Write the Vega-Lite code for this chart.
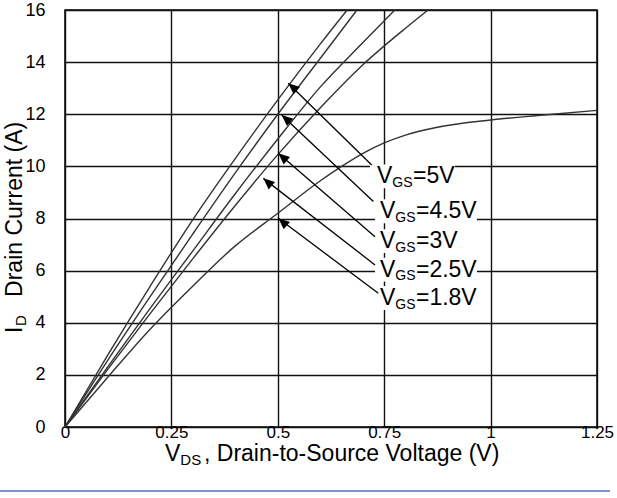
{
  "$schema": "https://vega.github.io/schema/vega-lite/v6.json",
  "width": 532,
  "height": 417,
  "autosize": "none",
  "padding": {"left": 65, "top": 10, "right": 20, "bottom": 71},
  "background": "white",
  "config": {
    "font": "Liberation Sans",
    "view": {"stroke": "#000", "strokeWidth": 1.5},
    "axis": {"labelFontSize": 18, "labelFont": "Liberation Sans", "labelColor": "#000", "labelFlush": false, "labelOverlap": false,
             "grid": true, "gridColor": "#111", "gridWidth": 1.4, "gridOpacity": 1, "domain": false, "ticks": false}
  },
  "datasets": {
    "curves": [
      {"vgs": "5V", "v": 0, "i": 0}, {"vgs": "5V", "v": 0.1, "i": 2.75}, {"vgs": "5V", "v": 0.2, "i": 5.4}, {"vgs": "5V", "v": 0.3, "i": 7.95}, {"vgs": "5V", "v": 0.4, "i": 10.3}, {"vgs": "5V", "v": 0.5, "i": 12.55}, {"vgs": "5V", "v": 0.6, "i": 14.7}, {"vgs": "5V", "v": 0.663, "i": 16},
      {"vgs": "4.5V", "v": 0, "i": 0}, {"vgs": "4.5V", "v": 0.1, "i": 2.55}, {"vgs": "4.5V", "v": 0.2, "i": 5.0}, {"vgs": "4.5V", "v": 0.3, "i": 7.4}, {"vgs": "4.5V", "v": 0.4, "i": 9.75}, {"vgs": "4.5V", "v": 0.5, "i": 12.0}, {"vgs": "4.5V", "v": 0.6, "i": 14.15}, {"vgs": "4.5V", "v": 0.686, "i": 16},
      {"vgs": "3V", "v": 0, "i": 0}, {"vgs": "3V", "v": 0.1, "i": 2.3}, {"vgs": "3V", "v": 0.2, "i": 4.55}, {"vgs": "3V", "v": 0.3, "i": 6.75}, {"vgs": "3V", "v": 0.4, "i": 8.95}, {"vgs": "3V", "v": 0.5, "i": 11.05}, {"vgs": "3V", "v": 0.6, "i": 13.05}, {"vgs": "3V", "v": 0.7, "i": 14.75}, {"vgs": "3V", "v": 0.775, "i": 16},
      {"vgs": "2.5V", "v": 0, "i": 0}, {"vgs": "2.5V", "v": 0.1, "i": 2.2}, {"vgs": "2.5V", "v": 0.2, "i": 4.35}, {"vgs": "2.5V", "v": 0.3, "i": 6.45}, {"vgs": "2.5V", "v": 0.4, "i": 8.5}, {"vgs": "2.5V", "v": 0.5, "i": 10.45}, {"vgs": "2.5V", "v": 0.6, "i": 12.25}, {"vgs": "2.5V", "v": 0.7, "i": 13.9}, {"vgs": "2.5V", "v": 0.8, "i": 15.3}, {"vgs": "2.5V", "v": 0.853, "i": 16},
      {"vgs": "1.8V", "v": 0, "i": 0}, {"vgs": "1.8V", "v": 0.1, "i": 1.9}, {"vgs": "1.8V", "v": 0.2, "i": 3.75}, {"vgs": "1.8V", "v": 0.3, "i": 5.4}, {"vgs": "1.8V", "v": 0.4, "i": 6.95}, {"vgs": "1.8V", "v": 0.5, "i": 8.2}, {"vgs": "1.8V", "v": 0.6, "i": 9.45}, {"vgs": "1.8V", "v": 0.65, "i": 10.0}, {"vgs": "1.8V", "v": 0.7, "i": 10.5}, {"vgs": "1.8V", "v": 0.75, "i": 10.9}, {"vgs": "1.8V", "v": 0.8, "i": 11.2}, {"vgs": "1.8V", "v": 0.875, "i": 11.5}, {"vgs": "1.8V", "v": 1.0, "i": 11.78}, {"vgs": "1.8V", "v": 1.125, "i": 11.97}, {"vgs": "1.8V", "v": 1.25, "i": 12.15}
    ],
    "labels": [
      {"vgs": "5V", "rest": "=5V", "size": "short", "lv": 0.733, "li": 9.35, "tv": 0.7206, "ti": 10.05, "pv": 0.5245, "pi": 13.19},
      {"vgs": "4.5V", "rest": "=4.5V", "size": "long", "lv": 0.74, "li": 8.01, "tv": 0.7245, "ti": 8.65, "pv": 0.509, "pi": 11.97},
      {"vgs": "3V", "rest": "=3V", "size": "short", "lv": 0.74, "li": 6.86, "tv": 0.7284, "ti": 7.3, "pv": 0.5012, "pi": 10.5},
      {"vgs": "2.5V", "rest": "=2.5V", "size": "long", "lv": 0.74, "li": 5.77, "tv": 0.7284, "ti": 6.22, "pv": 0.466, "pi": 9.54},
      {"vgs": "1.8V", "rest": "=1.8V", "size": "long", "lv": 0.74, "li": 4.68, "tv": 0.7362, "ti": 5.13, "pv": 0.5012, "pi": 8.01}
    ],
    "xtitle": [{"v": 0.235, "i": -1.32}],
    "ytitle": [{"v": -0.101, "i": 3.61}],
    "frame": [{"v": -0.1527, "v2": 1.2805, "i": -2.456}]
  },
  "layer": [
    {
      "data": {"name": "curves"},
      "mark": {"type": "line", "interpolate": "monotone", "color": "#333", "strokeWidth": 1.4},
      "encoding": {
        "x": {"field": "v", "type": "quantitative", "scale": {"domain": [0, 1.25], "nice": false, "zero": false},
              "axis": {"title": null, "values": [0, 0.25, 0.5, 0.75, 1, 1.25], "format": ".3~g", "labelPadding": -3, "labelBaseline": "top", "labelFontSize": 17}},
        "y": {"field": "i", "type": "quantitative", "scale": {"domain": [0, 16], "nice": false, "zero": false},
              "axis": {"title": null, "values": [0, 2, 4, 6, 8, 10, 12, 14, 16], "labelPadding": 20, "labelFontSize": 18}},
        "detail": {"field": "vgs"}
      }
    },
    {
      "data": {"name": "labels"},
      "transform": [{"filter": "datum.size == 'short'"}],
      "mark": {"type": "point", "shape": "M-1,-0.28H1V0.28H-1Z", "size": 7225, "filled": true, "color": "white", "opacity": 1, "strokeWidth": 0, "xOffset": 35.5, "yOffset": -7},
      "encoding": {
        "x": {"field": "lv", "type": "quantitative"},
        "y": {"field": "li", "type": "quantitative"}
      }
    },
    {
      "data": {"name": "labels"},
      "transform": [{"filter": "datum.size == 'long'"}],
      "mark": {"type": "point", "shape": "M-1,-0.235H1V0.235H-1Z", "size": 10404, "filled": true, "color": "white", "opacity": 1, "strokeWidth": 0, "xOffset": 46, "yOffset": -7},
      "encoding": {
        "x": {"field": "lv", "type": "quantitative"},
        "y": {"field": "li", "type": "quantitative"}
      }
    },
    {
      "data": {"name": "labels"},
      "mark": {"type": "rule", "color": "#000", "strokeWidth": 1.3},
      "encoding": {
        "x": {"field": "tv", "type": "quantitative"},
        "y": {"field": "ti", "type": "quantitative"},
        "x2": {"field": "pv"},
        "y2": {"field": "pi"}
      }
    },
    {
      "data": {"name": "labels"},
      "mark": {"type": "point", "shape": "M0,0L-0.6,1.4L0.6,1.4Z", "size": 260, "filled": true, "color": "#000", "opacity": 1, "strokeWidth": 0, "angle": -49},
      "encoding": {
        "x": {"field": "pv", "type": "quantitative"},
        "y": {"field": "pi", "type": "quantitative"}
      }
    },
    {
      "data": {"name": "labels"},
      "mark": {"type": "text", "text": "V", "font": "Liberation Sans", "fontSize": 23, "align": "left", "baseline": "alphabetic", "color": "#000"},
      "encoding": {
        "x": {"field": "lv", "type": "quantitative"},
        "y": {"field": "li", "type": "quantitative"}
      }
    },
    {
      "data": {"name": "labels"},
      "mark": {"type": "text", "text": "GS", "font": "Liberation Sans", "fontSize": 14, "align": "left", "baseline": "alphabetic", "dx": 15.3, "dy": 3.5, "color": "#000"},
      "encoding": {
        "x": {"field": "lv", "type": "quantitative"},
        "y": {"field": "li", "type": "quantitative"}
      }
    },
    {
      "data": {"name": "labels"},
      "mark": {"type": "text", "font": "Liberation Sans", "fontSize": 23, "align": "left", "baseline": "alphabetic", "dx": 36, "color": "#000"},
      "encoding": {
        "x": {"field": "lv", "type": "quantitative"},
        "y": {"field": "li", "type": "quantitative"},
        "text": {"field": "rest"}
      }
    },
    {
      "data": {"name": "xtitle"},
      "mark": {"type": "text", "text": "V", "font": "Liberation Sans", "fontSize": 23, "align": "left", "baseline": "alphabetic", "color": "#000"},
      "encoding": {"x": {"field": "v", "type": "quantitative"}, "y": {"field": "i", "type": "quantitative"}}
    },
    {
      "data": {"name": "xtitle"},
      "mark": {"type": "text", "text": "DS", "font": "Liberation Sans", "fontSize": 15, "align": "left", "baseline": "alphabetic", "dx": 15.3, "dy": 4, "color": "#000"},
      "encoding": {"x": {"field": "v", "type": "quantitative"}, "y": {"field": "i", "type": "quantitative"}}
    },
    {
      "data": {"name": "xtitle"},
      "mark": {"type": "text", "text": ", Drain-to-Source Voltage (V)", "font": "Liberation Sans", "fontSize": 23, "align": "left", "baseline": "alphabetic", "dx": 39, "color": "#000"},
      "encoding": {"x": {"field": "v", "type": "quantitative"}, "y": {"field": "i", "type": "quantitative"}}
    },
    {
      "data": {"name": "ytitle"},
      "mark": {"type": "text", "text": "I", "font": "Liberation Sans", "fontSize": 23, "align": "left", "baseline": "alphabetic", "angle": 270, "color": "#000"},
      "encoding": {"x": {"field": "v", "type": "quantitative"}, "y": {"field": "i", "type": "quantitative"}}
    },
    {
      "data": {"name": "ytitle"},
      "mark": {"type": "text", "text": "D", "font": "Liberation Sans", "fontSize": 15, "align": "left", "baseline": "alphabetic", "angle": 270, "dx": 7, "dy": 4, "color": "#000"},
      "encoding": {"x": {"field": "v", "type": "quantitative"}, "y": {"field": "i", "type": "quantitative"}}
    },
    {
      "data": {"name": "ytitle"},
      "mark": {"type": "text", "text": "Drain Current (A)", "font": "Liberation Sans", "fontSize": 23, "align": "left", "baseline": "alphabetic", "angle": 270, "dx": 36, "color": "#000"},
      "encoding": {"x": {"field": "v", "type": "quantitative"}, "y": {"field": "i", "type": "quantitative"}}
    },
    {
      "data": {"name": "frame"},
      "mark": {"type": "rule", "color": "#4a76c0", "strokeWidth": 1.5},
      "encoding": {
        "x": {"field": "v", "type": "quantitative"},
        "x2": {"field": "v2"},
        "y": {"field": "i", "type": "quantitative"}
      }
    }
  ]
}
